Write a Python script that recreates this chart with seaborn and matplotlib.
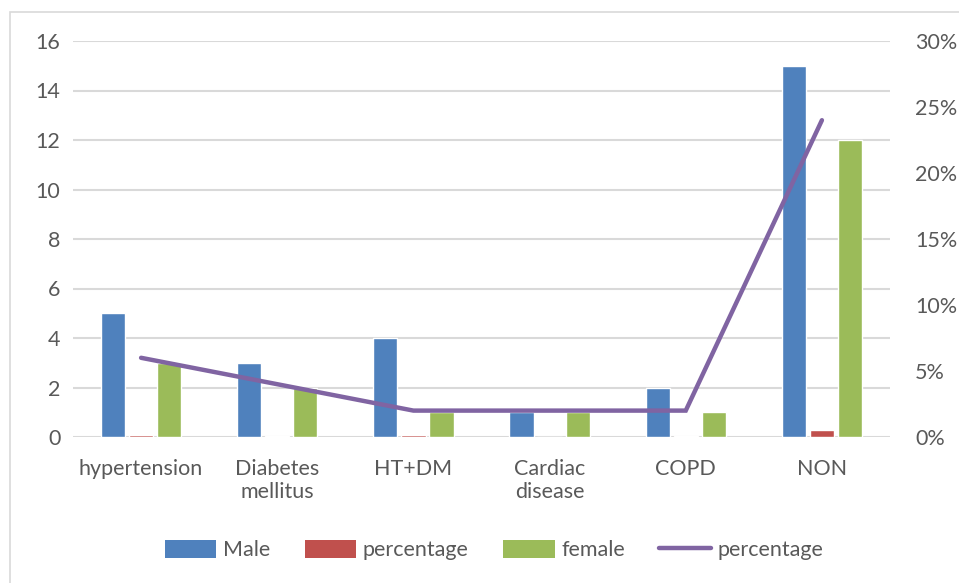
import numpy as np
import pandas as pd
import matplotlib
matplotlib.use("Agg")
import matplotlib.pyplot as plt
from matplotlib.patches import Rectangle, Patch
from matplotlib.lines import Line2D
from matplotlib.ticker import PercentFormatter, MultipleLocator
import seaborn as sns

categories = ["hypertension", "Diabetes\nmellitus", "HT+DM", "Cardiac\ndisease", "COPD", "NON"]
male = [5, 3, 4, 1, 2, 15]
male_pct = [0.10, 0.06, 0.08, 0.02, 0.04, 0.30]
female = [3, 2, 1, 1, 1, 12]
female_pct = [0.06, 0.04, 0.02, 0.02, 0.02, 0.24]

series_names = ["Male", "percentage", "female"]
colors = {"Male": "#4F81BD", "percentage": "#C0504D", "female": "#9BBB59"}
line_color = "#8064A2"
text_color = "#595959"
grid_color = "#D9D9D9"
fs = 15.5

sns.set_theme(style="white")
plt.rcParams["font.family"] = ["Lato", "DejaVu Sans"]

bars = pd.DataFrame({
    "category": categories * 3,
    "series": [s for s in series_names for _ in categories],
    "value": male + male_pct + female,
})

fig = plt.figure(figsize=(9.59, 5.83), dpi=100)
ax = fig.add_axes([73 / 959, 1 - 437 / 583, (890 - 73) / 959, (437 - 41) / 583])

sns.barplot(data=bars, x="category", y="value", hue="series", order=categories,
            hue_order=series_names, palette=colors, width=0.62, gap=0.14,
            saturation=1, ax=ax, legend=False)

ax.set_xlim(-0.5, len(categories) - 0.5)
ax.set_ylim(0, 16)
ax.yaxis.set_major_locator(MultipleLocator(2))
ax.grid(axis="y", color=grid_color, linewidth=1.5)
ax.set_axisbelow(True)
ax.set_xlabel("")
ax.set_ylabel("")
for s in ax.spines.values():
    s.set_visible(False)
ax.tick_params(axis="both", length=0, labelsize=fs, colors=text_color)
ax.tick_params(axis="x", pad=16)
ax.tick_params(axis="y", pad=9)
for lbl in ax.get_xticklabels():
    lbl.set_linespacing(1.15)

ax2 = ax.twinx()
line_df = pd.DataFrame({"x": np.arange(len(categories)), "pct": female_pct})
sns.lineplot(data=line_df, x="x", y="pct", color=line_color, linewidth=3.2,
             ax=ax2, solid_capstyle="round", solid_joinstyle="miter")
ax2.set_ylim(0, 0.30)
ax2.yaxis.set_major_locator(MultipleLocator(0.05))
ax2.yaxis.set_major_formatter(PercentFormatter(1.0, decimals=0))
ax2.set_xlabel("")
ax2.set_ylabel("")
for s in ax2.spines.values():
    s.set_visible(False)
ax2.tick_params(axis="y", length=0, labelsize=fs, colors=text_color, pad=18)
ax2.grid(False)

handles = [Patch(facecolor=colors[s], edgecolor="none") for s in series_names]
handles.append(Line2D([0], [0], color=line_color, linewidth=3.2, solid_capstyle="round"))
labels = series_names + ["percentage"]
fig.legend(handles, labels, loc="center", bbox_to_anchor=(494 / 959, 1 - 550 / 583),
           ncol=4, frameon=False, fontsize=fs, labelcolor=text_color,
           handlelength=2.4, handleheight=0.9, handletextpad=0.3, columnspacing=1.6)

fig.patches.append(Rectangle((10 / 959, -0.1), 1.2, 1.1 - 12 / 583, transform=fig.transFigure,
                             fill=False, edgecolor=grid_color, linewidth=1.2, zorder=-1))

fig.savefig("out.png", dpi=100)
